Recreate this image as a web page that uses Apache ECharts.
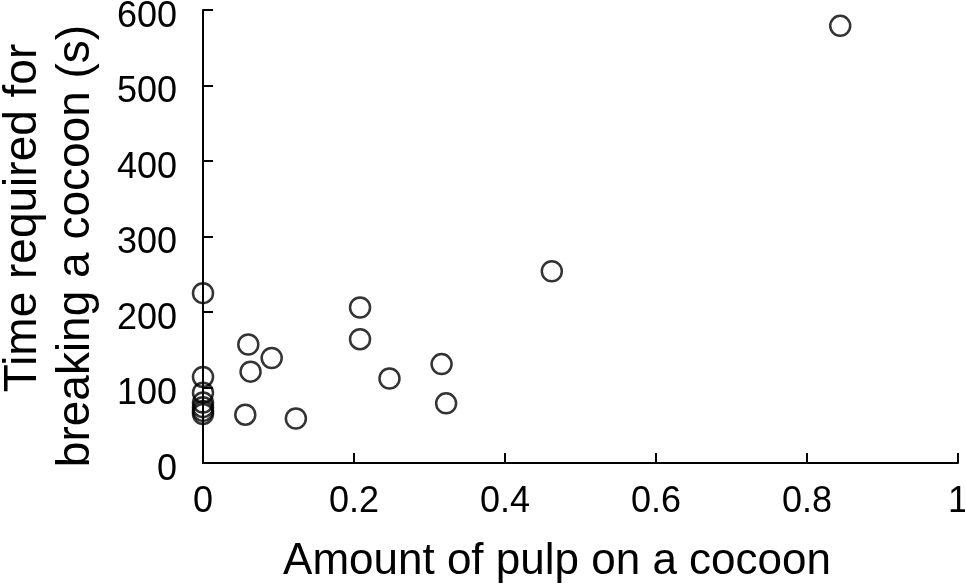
<!DOCTYPE html>
<html>
<head>
<meta charset="utf-8">
<script src="https://cdn.jsdelivr.net/npm/echarts@6/dist/echarts.min.js"></script>
<style>
  html, body { margin: 0; padding: 0; background: #fff; }
  #chart { width: 965px; height: 584px; }
</style>
</head>
<body>
<div id="chart"></div>
<script>
// values
const pulpAmount = [0, 0, 0, 0, 0, 0, 0, 0.056, 0.060, 0.063, 0.091, 0.123, 0.208, 0.208, 0.247, 0.316, 0.322, 0.462, 0.844]
const timeSec = [225, 114, 93, 80, 74, 69, 65, 64, 157, 121, 139, 59, 206, 164, 112, 131, 79, 254, 579]
const xTicks = [0, 0.2, 0.4, 0.6, 0.8, 1]
const yTicks = [0, 100, 200, 300, 400, 500, 600]

const font = "'Liberation Sans', Arial, Helvetica, sans-serif"
const points = pulpAmount.map((x, i) => [x, timeSec[i]])

const chart = echarts.init(document.getElementById('chart'))

const option = {
  animation: false,
  backgroundColor: '#fff',
  grid: { left: 203, right: 7, top: 10, bottom: 121, outerBoundsMode: 'none', containLabel: false },
  xAxis: {
    type: 'value',
    min: xTicks[0],
    max: xTicks[xTicks.length - 1],
    interval: 0.2,
    splitLine: { show: false },
    axisLine: { show: true, lineStyle: { color: '#000', width: 2 } },
    axisTick: { show: true, inside: true, length: 10, lineStyle: { color: '#000', width: 2 } },
    axisLabel: { color: '#000', fontSize: 36, fontFamily: font, margin: 21 }
  },
  yAxis: {
    type: 'value',
    min: yTicks[0],
    max: yTicks[yTicks.length - 1],
    interval: 100,
    splitLine: { show: false },
    axisLine: { show: true, lineStyle: { color: '#000', width: 2 } },
    axisTick: { show: true, inside: true, length: 10, lineStyle: { color: '#000', width: 2 } },
    // labels sit a little below their ticks in the original
    axisLabel: { color: '#000', fontSize: 36, fontFamily: font, margin: 26, verticalAlign: 'top', lineHeight: 14 }
  },
  graphic: [
    {
      type: 'text',
      x: 557,
      y: 562,
      style: { text: 'Amount of pulp on a cocoon', fill: '#000', font: '44px ' + font, align: 'center', verticalAlign: 'middle' }
    },
    {
      type: 'text',
      x: 23,
      y: 218,
      rotation: Math.PI / 2,
      style: { text: 'Time required for', fill: '#000', font: '46px ' + font, align: 'center', verticalAlign: 'middle' }
    },
    {
      type: 'text',
      x: 76,
      y: 246,
      rotation: Math.PI / 2,
      style: { text: 'breaking a cocoon (s)', fill: '#000', font: '46px ' + font, align: 'center', verticalAlign: 'middle' }
    }
  ],
  series: [
    {
      type: 'scatter',
      data: points,
      symbol: 'circle',
      symbolSize: 20,
      clip: false,
      itemStyle: { color: 'rgba(0,0,0,0)', borderColor: '#000', borderWidth: 2.5 }
    }
  ]
}

chart.setOption(option)
</script>
</body>
</html>
